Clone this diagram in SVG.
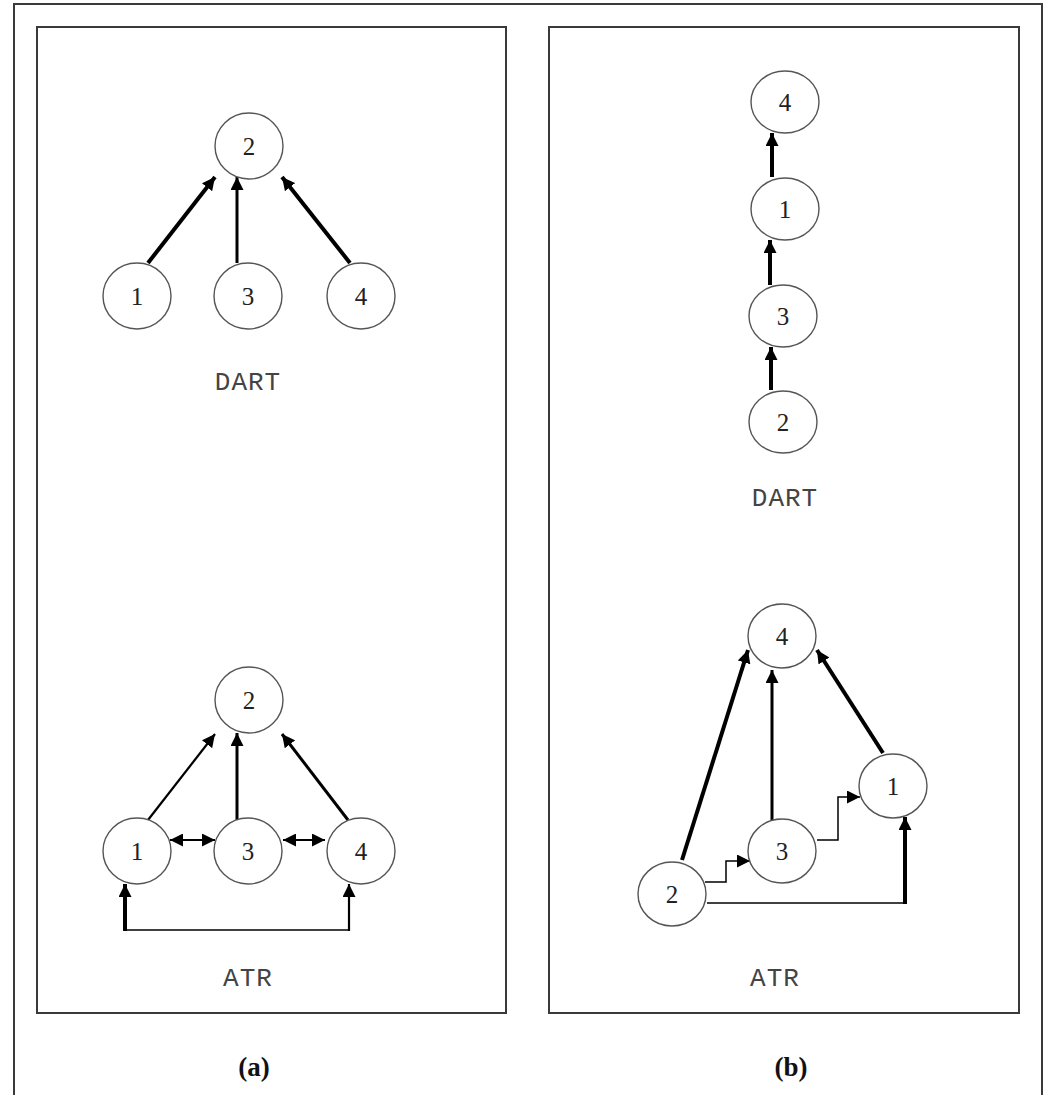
<svg xmlns="http://www.w3.org/2000/svg" width="1045" height="1095" viewBox="0 0 1045 1095">
<style>
.frame{fill:none;stroke:#3a3a3a;stroke-width:2}
.node ellipse{fill:#fff;stroke:#555;stroke-width:1.4}
.node text{font-family:"Liberation Serif",serif;font-size:25px;fill:#222;text-anchor:middle;dominant-baseline:central}
.lbl{font-family:"Liberation Mono",monospace;font-size:26px;fill:#444;text-anchor:middle;letter-spacing:1px}
.cap{font-family:"Liberation Serif",serif;font-size:27px;font-weight:bold;fill:#111;text-anchor:middle}
.e{fill:none;stroke:#000}
.w1{stroke-width:1.5}
.w2{stroke-width:2.2}
.w3{stroke-width:3}
.w4{stroke-width:4}
</style>
<defs>
<marker id="ah" viewBox="0 0 12 12" refX="12" refY="6" markerWidth="13" markerHeight="13" markerUnits="userSpaceOnUse" orient="auto">
<path d="M0,0 L12,6 L0,12 z" fill="#000"/>
</marker>
<marker id="as" viewBox="0 0 12 12" refX="0" refY="6" markerWidth="13" markerHeight="13" markerUnits="userSpaceOnUse" orient="auto">
<path d="M12,0 L0,6 L12,12 z" fill="#000"/>
</marker>
</defs>
<rect width="1045" height="1095" fill="#fff"/>
<g id="frames">
<path class="frame" d="M14,1100 V4 H1042 V1100"/>
<rect class="frame" x="37" y="27" width="469" height="986"/>
<rect class="frame" x="549" y="27" width="470" height="986"/>
</g>
<g id="connectors">
<!-- left DART -->
<line class="e w4" x1="148" y1="263" x2="215" y2="177" marker-end="url(#ah)"/>
<line class="e w3" x1="237" y1="263" x2="237" y2="177" marker-end="url(#ah)"/>
<line class="e w4" x1="350" y1="263" x2="282" y2="177" marker-end="url(#ah)"/>
<!-- left ATR -->
<line class="e w2" x1="148" y1="820" x2="215" y2="734" marker-end="url(#ah)"/>
<line class="e w3" x1="237" y1="820" x2="237" y2="733" marker-end="url(#ah)"/>
<line class="e w3" x1="348" y1="820" x2="282" y2="734" marker-end="url(#ah)"/>
<line class="e w2" x1="170" y1="840" x2="215" y2="840" marker-start="url(#as)" marker-end="url(#ah)"/>
<line class="e w2" x1="283" y1="840" x2="325" y2="840" marker-start="url(#as)" marker-end="url(#ah)"/>
<line class="e w1" x1="125" y1="930" x2="349" y2="930"/>
<line class="e w4" x1="125" y1="931" x2="125" y2="884" marker-end="url(#ah)"/>
<line class="e w2" x1="349" y1="931" x2="349" y2="884" marker-end="url(#ah)"/>
<!-- right DART -->
<line class="e w4" x1="771" y1="390" x2="771" y2="347" marker-end="url(#ah)"/>
<line class="e w4" x1="770" y1="285" x2="770" y2="240" marker-end="url(#ah)"/>
<line class="e w4" x1="772" y1="177" x2="772" y2="133" marker-end="url(#ah)"/>
<!-- right ATR -->
<line class="e w4" x1="682" y1="860" x2="748" y2="650" marker-end="url(#ah)"/>
<line class="e w3" x1="772" y1="820" x2="772" y2="670" marker-end="url(#ah)"/>
<line class="e w4" x1="883" y1="753" x2="817" y2="650" marker-end="url(#ah)"/>
<path class="e w1" d="M817,840 H838 V797 H860" marker-end="url(#ah)"/>
<path class="e w1" d="M705,882 H726 V861 H750" marker-end="url(#ah)"/>
<path class="e w1" d="M707,903 H905"/>
<line class="e w4" x1="905" y1="904" x2="905" y2="817" marker-end="url(#ah)"/>
</g>
<g id="a-dart-2" class="node"><ellipse cx="249" cy="146" rx="34" ry="33"/><text x="249" y="146">2</text></g>
<g id="a-dart-1" class="node"><ellipse cx="137" cy="296" rx="34" ry="33"/><text x="137" y="296">1</text></g>
<g id="a-dart-3" class="node"><ellipse cx="248" cy="296" rx="34" ry="33"/><text x="248" y="296">3</text></g>
<g id="a-dart-4" class="node"><ellipse cx="361" cy="296" rx="34" ry="33"/><text x="361" y="296">4</text></g>
<text class="lbl" x="248" y="390">DART</text>
<g id="a-atr-2" class="node"><ellipse cx="249" cy="700" rx="34" ry="33"/><text x="249" y="700">2</text></g>
<g id="a-atr-1" class="node"><ellipse cx="137" cy="851" rx="34" ry="33"/><text x="137" y="851">1</text></g>
<g id="a-atr-3" class="node"><ellipse cx="248" cy="851" rx="34" ry="33"/><text x="248" y="851">3</text></g>
<g id="a-atr-4" class="node"><ellipse cx="361" cy="851" rx="34" ry="33"/><text x="361" y="851">4</text></g>
<text class="lbl" x="248" y="986">ATR</text>
<g id="b-dart-4" class="node"><ellipse cx="785" cy="102" rx="34" ry="31"/><text x="785" y="102">4</text></g>
<g id="b-dart-1" class="node"><ellipse cx="785" cy="209" rx="34" ry="31"/><text x="785" y="209">1</text></g>
<g id="b-dart-3" class="node"><ellipse cx="783" cy="316" rx="34" ry="31"/><text x="783" y="316">3</text></g>
<g id="b-dart-2" class="node"><ellipse cx="783" cy="422" rx="34" ry="31"/><text x="783" y="422">2</text></g>
<text class="lbl" x="785" y="506">DART</text>
<g id="b-atr-4" class="node"><ellipse cx="782" cy="636" rx="34" ry="32"/><text x="782" y="636">4</text></g>
<g id="b-atr-1" class="node"><ellipse cx="893" cy="786" rx="34" ry="32"/><text x="893" y="786">1</text></g>
<g id="b-atr-3" class="node"><ellipse cx="782" cy="851" rx="34" ry="32"/><text x="782" y="851">3</text></g>
<g id="b-atr-2" class="node"><ellipse cx="672" cy="894" rx="34" ry="32"/><text x="672" y="894">2</text></g>
<text class="lbl" x="775" y="986">ATR</text>
<text class="cap" x="254" y="1076">(a)</text>
<text class="cap" x="791" y="1076">(b)</text>
</svg>
